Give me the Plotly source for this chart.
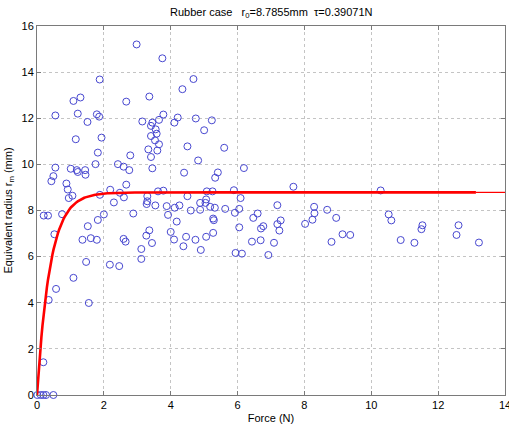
import numpy as np
import plotly.graph_objects as go

force = [0.01, 0.11, 0.19, 0.27, 0.49, 0.19,
         0.35, 0.57, 1.55, 1.09, 1.47, 2.18, 2.46, 3.12, 3.12,
         0.52, 1.36, 1.61, 1.79, 2.59, 2.65, 1.52, 1.82,
         0.20, 0.33, 0.75, 2.00, 2.88,
         2.30, 0.95, 1.06, 2.60, 1.88, 2.48, 2.19, 0.92, 0.88, 2.67,
         0.43, 0.49, 0.55, 1.01, 1.19, 1.22, 1.44, 1.45, 1.75, 2.42, 2.59, 2.76,
         1.82, 2.79,
         1.16, 1.93, 1.51, 0.55, 1.22, 1.79, 1.86, 1.09, 1.30, 2.67, 1.875, 2.98,
         3.15, 3.36, 3.75, 4.68, 4.35, 3.78, 3.45, 3.41, 3.65, 4.21, 4.11, 4.75, 5.23,
         3.55, 5.00, 3.41, 3.58, 3.53, 3.65, 4.50, 5.60, 3.33, 3.60, 3.41, 4.82,
         3.45, 4.40, 5.41, 5.33, 6.19,
         3.62, 3.78, 5.08, 5.25, 5.89, 3.30, 4.50, 3.30, 3.28, 6.09, 5.06, 4.88, 5.04,
         3.54, 3.88, 4.12, 4.26, 5.18, 5.32, 4.60, 4.88, 5.63, 6.05, 5.92, 3.92, 6.60,
         6.47, 5.27, 5.29, 4.18, 6.77, 6.70, 6.05, 3.36, 4.00, 5.27, 3.27, 4.46, 5.06,
         4.10, 4.74, 3.44, 6.43, 6.69, 4.38, 4.90, 5.94, 6.13, 6.92,
         7.67, 7.19, 8.29, 8.30, 8.68, 8.95, 8.24, 8.02, 7.29, 7.19, 7.25, 7.09,
         9.14, 9.37, 8.81, 10.28, 10.52, 10.60, 11.53, 11.50, 10.88, 11.29,
         12.61, 12.55, 13.22]

radius = [0, 0, 0, 0, 0, 1.42,
          4.12, 4.60, 3.99, 5.08, 5.77, 5.65, 5.59, 5.90, 6.33,
          6.97, 6.73, 6.80, 6.73, 6.77, 6.65, 7.32, 7.59,
          7.78, 7.78, 7.84, 7.83, 7.87,
          8.35, 8.54, 8.64, 8.57, 8.68, 8.77, 8.90, 8.91, 9.17, 9.12,
          9.27, 9.49, 9.86, 9.81, 9.75, 9.67, 9.75, 9.55, 10.01, 10.01, 9.90, 9.75,
          10.51, 10.39,
          11.09, 11.16, 11.84, 12.12, 12.20, 12.17, 12.07, 12.75, 12.90, 12.72, 13.68, 15.20,
          11.86, 12.94, 14.60, 13.70, 13.26, 12.16, 11.81, 11.67, 11.93, 12.03, 11.81, 11.99, 11.91,
          11.52, 11.48, 11.23, 11.33, 11.04, 10.87, 10.78, 10.72, 10.65, 10.60, 10.32, 10.17,
          9.83, 9.64, 9.65, 9.42, 9.84,
          8.83, 8.86, 8.83, 8.83, 8.88, 8.62, 8.62, 8.40, 8.28, 8.54, 8.48, 8.33, 8.33,
          8.22, 8.19, 8.12, 8.22, 8.16, 8.12, 8.00, 8.03, 8.07, 8.07, 7.90, 7.81, 7.87,
          7.68, 7.65, 7.58, 7.52, 7.32, 7.22, 7.27, 7.14, 7.07, 7.03, 6.91, 6.86, 6.86,
          6.74, 6.73, 6.59, 6.65, 6.71, 6.45, 6.29, 6.16, 6.13, 6.07,
          9.03, 8.23, 8.16, 7.88, 8.03, 7.68, 7.60, 7.42, 7.57, 7.41, 7.13, 6.60,
          6.97, 6.94, 6.64, 8.87, 7.83, 7.57, 7.36, 7.19, 6.72, 6.60,
          7.36, 6.94, 6.61]

r0 = 8.7855
tau = 0.39071
fit_end = 13.13
x_max = 14

x_ticks = [0, 2, 4, 6, 8, 10, 12, 14]
y_ticks = [0, 2, 4, 6, 8, 10, 12, 14, 16]

fx = np.linspace(0, fit_end, 400)
fy = r0 * (1 - np.exp(-fx / tau))
ex = np.array([fit_end, x_max])
ey = r0 * (1 - np.exp(-ex / tau))

FONT = "Liberation Sans, Arial"

fig = go.Figure()
fig.add_trace(go.Scatter(x=force, y=radius, mode="markers",
                         marker=dict(symbol="circle-open", size=7,
                                     color="#4848d0", line=dict(width=1)),
                         cliponaxis=False, showlegend=False, hoverinfo="skip"))
fig.add_trace(go.Scatter(x=fx, y=fy, mode="lines",
                         line=dict(color="#ff0000", width=2.6),
                         cliponaxis=False, showlegend=False, hoverinfo="skip"))
fig.add_trace(go.Scatter(x=ex, y=ey, mode="lines",
                         line=dict(color="#ff0000", width=1.2),
                         showlegend=False, hoverinfo="skip"))

axis_common = dict(showline=True, linecolor="#7a7a7a", linewidth=1, mirror="ticks",
                   ticks="inside", ticklen=4, tickcolor="#7a7a7a",
                   showgrid=True, gridcolor="#c4c4c4", griddash="dot", gridwidth=1,
                   zeroline=False, automargin=False, ticklabeloverflow="allow",
                   tickfont=dict(family=FONT, size=11, color="black"))

fig.update_xaxes(range=[0, 14], tickvals=x_ticks, ticktext=[str(v) for v in x_ticks],
                 title=dict(text="Force (N)", font=dict(family=FONT, size=11, color="black"),
                            standoff=4),
                 **axis_common)
fig.update_yaxes(range=[0, 16], tickvals=y_ticks, ticktext=[str(v) for v in y_ticks],
                 title=dict(text="Equivalent radius r<sub>m</sub> (mm)",
                            font=dict(family=FONT, size=11, color="black"),
                            standoff=6),
                 **axis_common)

fig.update_layout(
    width=509, height=427,
    margin=dict(l=37, r=3.5, t=26, b=32, autoexpand=False),
    paper_bgcolor="white", plot_bgcolor="white",
    hovermode=False,
    title=dict(text="Rubber case   r<sub>0</sub>=8.7855mm  τ=0.39071N",
               x=(37 + 505.5) / 2 / 509, xanchor="center", y=1 - 12 / 427, yanchor="middle",
               font=dict(family=FONT, size=11, color="black")),
)

fig.write_html("out.html", config={"displayModeBar": False, "staticPlot": True},
               post_script="document.body.style.margin='0';document.body.style.overflow='hidden';")
